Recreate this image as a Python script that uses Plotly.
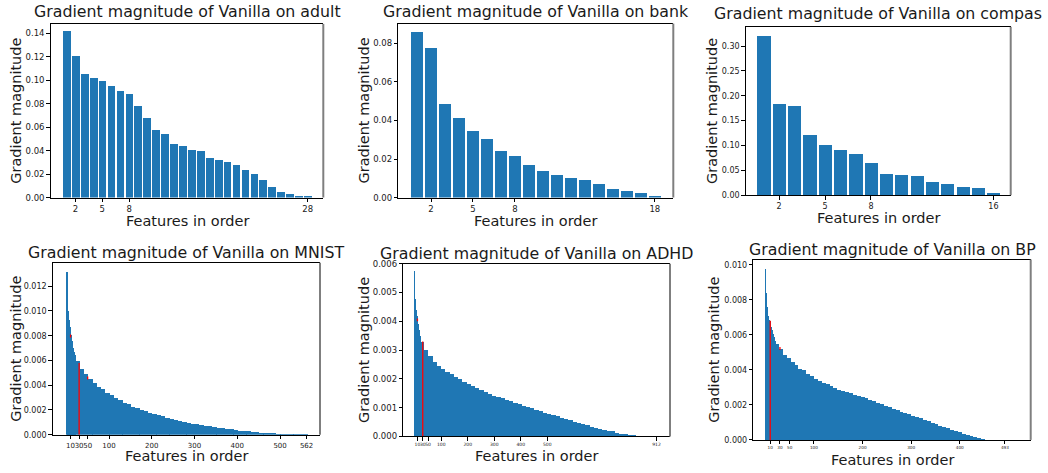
import plotly.graph_objects as go

W, H = 1048, 473

# ---------------- data ----------------
adult_values = [0.142, 0.1205, 0.105, 0.1024, 0.0991, 0.0949, 0.0907, 0.0882, 0.0782, 0.0682,
                0.0573, 0.054, 0.0456, 0.044, 0.0406, 0.0398, 0.0342, 0.0323, 0.0306, 0.0281,
                0.0239, 0.0198, 0.0148, 0.0089, 0.0047, 0.0033, 0.0014, 0.0006]
adult_ticks = [2, 5, 8, 28]

bank_values = [0.0864, 0.0778, 0.0488, 0.0415, 0.0346, 0.0308, 0.0242, 0.0217, 0.0171, 0.0141,
               0.0120, 0.0105, 0.0095, 0.0075, 0.0049, 0.0034, 0.0024, 0.0008]
bank_ticks = [2, 5, 8, 18]

compas_values = [0.3217, 0.1838, 0.1799, 0.1208, 0.1011, 0.0912, 0.0834, 0.0656, 0.044, 0.040,
                 0.0381, 0.0263, 0.0223, 0.0164, 0.0144, 0.0046]
compas_ticks = [2, 5, 8, 16]

# MNIST: features 1-20 individually, then averages over blocks of 10 features
mnist_count = 562
mnist_head = [0.0132, 0.0105, 0.0100, 0.0095, 0.0093, 0.0091, 0.0089, 0.0087, 0.0084, 0.0081,
              0.0078, 0.0076, 0.0074, 0.0072, 0.0070, 0.0069, 0.0067, 0.0066, 0.0065, 0.0064]
mnist_tail = [0.0060, 0.0053, 0.0049, 0.0045, 0.0042, 0.0039, 0.0037, 0.0034, 0.0032, 0.0030,
              0.0028, 0.0026, 0.0025, 0.0023, 0.0022, 0.0020, 0.0019, 0.0018, 0.0017, 0.0016,
              0.0015, 0.0014, 0.0013, 0.0012, 0.0011, 0.00105, 0.00098, 0.00091, 0.00085, 0.00079,
              0.00074, 0.00069, 0.00064, 0.00059, 0.00055, 0.00051, 0.00046, 0.00040, 0.00035, 0.00032,
              0.00029, 0.00026, 0.00023, 0.00020, 0.00016, 0.00013, 0.00010, 0.00008, 0.00003, 0.00002,
              0.00002, 0.00001, 0.00001, 0.00001, 0.00001]
mnist_ticks = [10, 30, 50, 100, 200, 300, 400, 500, 562]
mnist_marked = [10, 30, 50]
mnist_marked_values = [0.0081, 0.0058, 0.0047]
mnist_marked_full = [30]

# ADHD: features 1-20 individually, then blocks of 16 features
adhd_count = 912
adhd_head = [0.00575, 0.0048, 0.0046, 0.0045, 0.0044, 0.0044, 0.0043, 0.0043, 0.0042, 0.0041,
             0.0040, 0.0040, 0.0039, 0.0039, 0.0038, 0.0037, 0.0037, 0.0036, 0.0036, 0.0035]
adhd_tail = [0.0033, 0.0030, 0.0028, 0.0026, 0.00247, 0.00235, 0.00225, 0.00217, 0.00208, 0.00199,
             0.0019, 0.00182, 0.00175, 0.00168, 0.00161, 0.00155, 0.00149, 0.00143, 0.00138, 0.00133,
             0.00128, 0.00123, 0.00118, 0.00113, 0.00108, 0.00103, 0.00098, 0.00093, 0.00088, 0.00083,
             0.00079, 0.00075, 0.00071, 0.00066, 0.00061, 0.00057, 0.00052, 0.00048, 0.00043, 0.00039,
             0.00035, 0.00031, 0.00028, 0.00024, 0.00021, 0.00018, 0.00014, 0.00011, 0.00008, 0.00006,
             0.00003, 0.00001, 0.00001, 0.00001, 0.00001, 0.00001]
adhd_ticks = [10, 30, 50, 100, 200, 300, 400, 500, 912]
adhd_marked = [10, 30]
adhd_marked_values = [0.0041, 0.0033]
adhd_marked_full = [30]

# BP: features 1-20 individually, then blocks of 8 features
bp_count = 493
bp_head = [0.0098, 0.0084, 0.0080, 0.0076, 0.0072, 0.0071, 0.0070, 0.0069, 0.0069, 0.0068,
           0.0067, 0.0065, 0.0064, 0.0063, 0.0062, 0.0061, 0.0060, 0.0059, 0.0058, 0.0057]
bp_tail = [0.0055, 0.0052, 0.0049, 0.0047, 0.0045, 0.0043, 0.0041, 0.0040, 0.0038, 0.0037,
           0.0035, 0.0034, 0.0033, 0.0032, 0.0031, 0.0030, 0.0029, 0.0028, 0.00275, 0.0027,
           0.0026, 0.00252, 0.00247, 0.0024, 0.00232, 0.00224, 0.00215, 0.00207, 0.00198, 0.0019,
           0.00182, 0.00173, 0.00165, 0.00157, 0.00149, 0.00141, 0.00133, 0.00126, 0.00118, 0.0011,
           0.00101, 0.00093, 0.00085, 0.00076, 0.00068, 0.0006, 0.00053, 0.00046, 0.00039, 0.00032,
           0.00025, 0.00018, 0.00012, 0.00005, 0.00002, 0.00001, 0.00001, 0.00001, 0.00001, 0.00001]
bp_ticks = [10, 30, 50, 100, 200, 300, 400, 493]
bp_marked = [10, 30]
bp_marked_values = [0.0068, 0.0053]
bp_marked_full = [10]

# ---------------- layout constants ----------------
BLUE = "#1f77b4"
FONT = "DejaVu Sans"
TXT = "#1a1a1a"


def px(x):
    return x / W


def py(y):
    return 1 - y / H


panels = [
    dict(name="adult", box=(50.7, 323.3, 19.3, 196.7), xr=(-0.78, 29.75), ymax=0.148, dt=0.02, fmt=".2f",
         xtf=8.5, ytf=8.5, title_y=7, xlab_y=220.5, ylab_x=16),
    dict(name="bank", box=(398.3, 673.3, 19.0, 196.7), xr=(-0.34, 19.32), ymax=0.0903, dt=0.02, fmt=".2f",
         xtf=8.5, ytf=8.5, title_y=7, xlab_y=220.5, ylab_x=364),
    dict(name="compas", box=(745.7, 1010.7, 22.3, 194.3), xr=(-0.18, 17.13), ymax=0.3388, dt=0.05, fmt=".2f",
         xtf=8.0, ytf=8.0, title_y=9, xlab_y=217.5, ylab_x=712),
    dict(name="MNIST", box=(52.7, 320.0, 263.3, 439.0), xr=(-31.8, 593.4), ymax=0.0139, dt=0.002, fmt=".3f",
         xtf=7.0, ytf=8.0, title_y=253, xlab_y=460.5, ylab_x=16),
    dict(name="ADHD", box=(403.3, 670.0, 264.3, 440.7), xr=(-43.4, 963.0), ymax=0.006, dt=0.001, fmt=".3f",
         xtf=4.5, ytf=8.5, title_y=254, xlab_y=460.5, ylab_x=364),
    dict(name="BP", box=(753.3, 1030.7, 260.0, 444.3), xr=(-24.8, 546.0), ymax=0.0103, dt=0.002, fmt=".3f",
         xtf=4.2, ytf=8.0, title_y=250, xlab_y=464.5, ylab_x=714),
]

small = {
    "adult": (adult_values, adult_ticks),
    "bank": (bank_values, bank_ticks),
    "compas": (compas_values, compas_ticks),
}
large = {
    "MNIST": (mnist_head, mnist_tail, 10, mnist_count, mnist_ticks, mnist_marked, mnist_marked_values, mnist_marked_full),
    "ADHD": (adhd_head, adhd_tail, 16, adhd_count, adhd_ticks, adhd_marked, adhd_marked_values, adhd_marked_full),
    "BP": (bp_head, bp_tail, 8, bp_count, bp_ticks, bp_marked, bp_marked_values, bp_marked_full),
}

fig = go.Figure()
annotations = []
shapes = []

for i, p in enumerate(panels):
    k = i + 1
    xa = "x" if k == 1 else f"x{k}"
    ya = "y" if k == 1 else f"y{k}"
    L, R, T, B = p["box"]
    name = p["name"]

    if name in small:
        vals, ticks = small[name]
        fig.add_trace(go.Bar(x=list(range(1, len(vals) + 1)), y=vals, width=0.86,
                             marker=dict(color=BLUE, line=dict(width=0)),
                             xaxis=xa, yaxis=ya, showlegend=False))
    else:
        head, tail, binw, n, ticks, marked, mvals, mfull = large[name]
        xs, ys, ws = [], [], []
        for j, v in enumerate(head):
            xs.append(j + 1); ys.append(v); ws.append(1.0)
        start = len(head) + 1
        for j, v in enumerate(tail):
            a = start + j * binw
            b = min(a + binw - 1, n)
            xs.append((a + b) / 2.0); ys.append(v); ws.append(b - a + 1)
        ws = [w + 0.6 for w in ws]
        fig.add_trace(go.Bar(x=xs, y=ys, width=ws,
                             marker=dict(color=BLUE, line=dict(width=0)),
                             xaxis=xa, yaxis=ya, showlegend=False))
        tip = 3.0 / (B - T) * p["ymax"]
        for f, v in zip(marked, mvals):
            y0 = 0 if f in mfull else v - tip
            fig.add_trace(go.Scatter(x=[f, f], y=[y0, v], mode="lines",
                                     line=dict(color="#ff0000", width=1.3),
                                     xaxis=xa, yaxis=ya, showlegend=False, hoverinfo="skip"))

    xdom = [px(L), px(R)]
    ydom = [py(B), py(T)]
    common = dict(showgrid=False, zeroline=False, ticks="outside", ticklen=3.5, tickwidth=0.8,
                  tickcolor="black", linecolor="black", linewidth=1, showline=True)
    fig.layout[f"xaxis{'' if k == 1 else k}"] = dict(
        domain=xdom, anchor=ya, range=list(p["xr"]), tickmode="array", tickvals=ticks,
        ticktext=[str(t) for t in ticks], tickangle=0, mirror=True,
        tickfont=dict(family=FONT, size=p["xtf"], color=TXT), **common)
    fig.layout[f"yaxis{'' if k == 1 else k}"] = dict(
        domain=ydom, anchor=xa, range=[0, p["ymax"]], dtick=p["dt"], tick0=0, tickformat=p["fmt"],
        tickfont=dict(family=FONT, size=p["ytf"], color=TXT), **common)

    shapes.append(dict(type="line", xref=f"{xa} domain", yref=f"{ya} domain", x0=1, x1=1, y0=0, y1=1,
                       line=dict(color="#7f7f7f", width=2)))

    cx = px((L + R) / 2)
    annotations.append(dict(text=f"Gradient magnitude of Vanilla on {name}", x=cx, y=py(p["title_y"]),
                            xref="paper", yref="paper", xanchor="center", yanchor="middle", showarrow=False,
                            borderpad=0, font=dict(family=FONT, size=15.8, color=TXT)))
    annotations.append(dict(text="Features in order", x=cx, y=py(p["xlab_y"]),
                            xref="paper", yref="paper", xanchor="center", yanchor="middle", showarrow=False,
                            borderpad=0, font=dict(family=FONT, size=14.5, color=TXT)))
    annotations.append(dict(text="Gradient magnitude", x=px(p["ylab_x"]), y=py((T + B) / 2),
                            xref="paper", yref="paper", xanchor="center", yanchor="middle", showarrow=False,
                            borderpad=0, textangle=-90, font=dict(family=FONT, size=14.5, color=TXT)))

fig.update_layout(width=W, height=H, margin=dict(l=0, r=0, t=0, b=0),
                  paper_bgcolor="white", plot_bgcolor="white", bargap=0,
                  annotations=annotations, shapes=shapes, showlegend=False)

# remove the browser's default 8px body margin so the figure sits at the window's top-left corner
fig.write_html("out.html", config={"displayModeBar": False},
               post_script="document.body.style.margin='0px';")
